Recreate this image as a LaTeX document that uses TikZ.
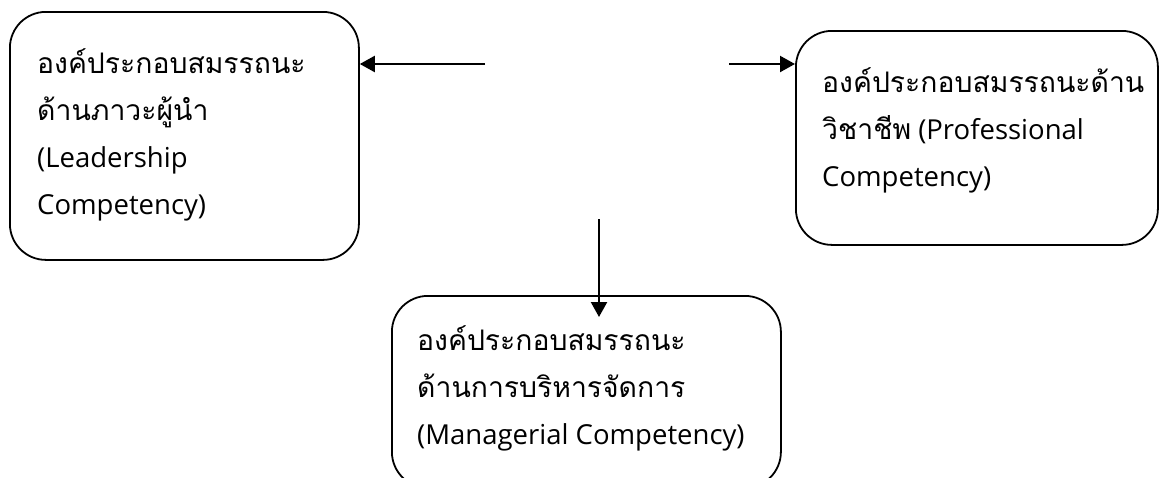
\documentclass[tikz,border=0pt]{standalone}
\usepackage{fontspec}
\setmainfont{Open Sans}
\newfontfamily\thaifont[Script=Thai,Scale=1.03]{Loma}
\usetikzlibrary{arrows.meta}
\begin{document}
\begin{tikzpicture}[x=1pt,y=-1pt,
  box/.style={draw, line width=1.8pt, rounded corners=36pt, inner sep=0pt, anchor=north west},
  txt/.style={anchor=base west, align=left, inner sep=0pt, font=\fontsize{27.5}{47}\selectfont},
  arr/.style={line width=2.2pt, -{Triangle[length=15pt,width=16pt]}}]
\useasboundingbox (0,0) rectangle (1159,477);
\clip (0,0) rectangle (1159,477);
\node[box, minimum width=349pt, minimum height=248pt] (lead) at (9,11) {};
\node[box, minimum width=362pt, minimum height=214pt] (prof) at (795,30) {};
\node[box, minimum width=389pt, minimum height=192pt] (mgr) at (391,295) {};
\node[txt] (leadt) at (37,214) {{\thaifont องค์ประกอบสมรรถนะ}\\{\thaifont ด้านภาวะผู้นำ}\\(Leadership\\Competency)};
\node[txt] (proft) at (822,186) {{\thaifont องค์ประกอบสมรรถนะด้าน}\\{\thaifont วิชาชีพ} (Professional\\Competency)};
\node[txt] (mgrt) at (417,444) {{\thaifont องค์ประกอบสมรรถนะ}\\{\thaifont ด้านการบริหารจัดการ}\\(Managerial Competency)};
\coordinate (c1) at (485,64);
\coordinate (c2) at (729,64);
\coordinate (c3) at (599,219);
\draw[arr] (c1) -- (c1 -| lead.east);
\draw[arr] (c2) -- (c2 -| prof.west);
\draw[arr, shorten >=-22pt] (c3) -- (c3 |- mgr.north);
\end{tikzpicture}
\end{document}
